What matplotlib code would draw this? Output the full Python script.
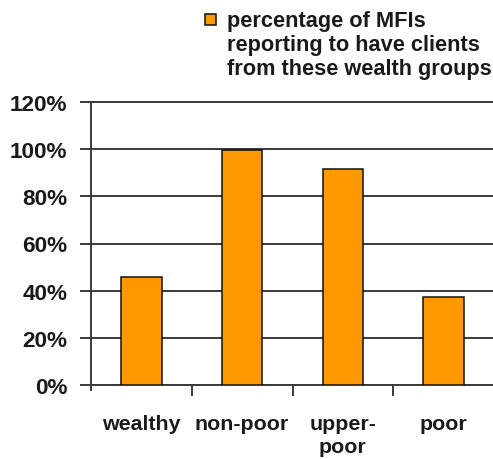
import matplotlib
matplotlib.use("Agg")
import matplotlib.pyplot as plt
from matplotlib.patches import Rectangle

categories = ["wealthy", "non-poor", "upper-\npoor", "poor"]
values = [45.9, 99.6, 91.5, 37.2]
yticks = [0, 20, 40, 60, 80, 100, 120]
ytick_labels = ["0%", "20%", "40%", "60%", "80%", "100%", "120%"]
legend_label = "percentage of MFIs\nreporting to have clients\nfrom these wealth groups"

plt.rcParams['font.family'] = ['Liberation Sans', 'DejaVu Sans']
plt.rcParams['font.weight'] = 'bold'

W, H = 493, 460
fig = plt.figure(figsize=(W / 100, H / 100), dpi=100)
ax = fig.add_axes([91 / W, 1 - 386 / H, (494 - 91) / W, (386 - 103) / H])

text_color = "#1a1a1a"
grid_color = "#3a3a3a"
bar_color = "#FF9900"

ax.set_axisbelow(True)
x = list(range(len(categories)))
ax.bar(x, values, width=0.4, color=bar_color, edgecolor="#111111", linewidth=1.1, zorder=3)

ax.set_xlim(-0.5, len(categories) - 0.5)
ax.set_ylim(0, 120)
ax.set_yticks(yticks)
ax.set_yticklabels(ytick_labels)
ax.yaxis.grid(True, color=grid_color, linewidth=1.4)
ax.tick_params(axis='y', direction='out', length=8, width=1.4, color=grid_color,
               pad=9, labelsize=16.2, labelcolor=text_color)

ax.set_xticks(x)
ax.set_xticklabels(categories, fontsize=15.4, color=text_color, linespacing=1.25, va='top')
ax.tick_params(axis='x', which='major', length=0, pad=21)
ax.set_xticks([i + 0.5 for i in x[:-1]], minor=True)
ax.tick_params(axis='x', which='minor', direction='out', length=8, width=1.4, color=grid_color)

for side in ['top', 'right']:
    ax.spines[side].set_visible(False)
ax.spines['left'].set_color(grid_color)
ax.spines['left'].set_linewidth(1.4)
ax.spines['bottom'].set_color(grid_color)
ax.spines['bottom'].set_linewidth(1.4)
ax.spines['left'].set_bounds(-2, 120)
ax.spines['left'].set_clip_on(False)

ax.axhline(120, color=grid_color, linewidth=1.4, clip_on=False, zorder=2)

fig.patches.append(Rectangle((205 / W, 1 - 26 / H), 11 / W, 11 / H,
                             transform=fig.transFigure, facecolor=bar_color,
                             edgecolor="#111111", linewidth=1.1))
fig.text(227 / W, 1 - 11 / H, legend_label, fontsize=15.7, color=text_color,
         ha='left', va='top', linespacing=1.2)

fig.savefig("out.png", dpi=100)
